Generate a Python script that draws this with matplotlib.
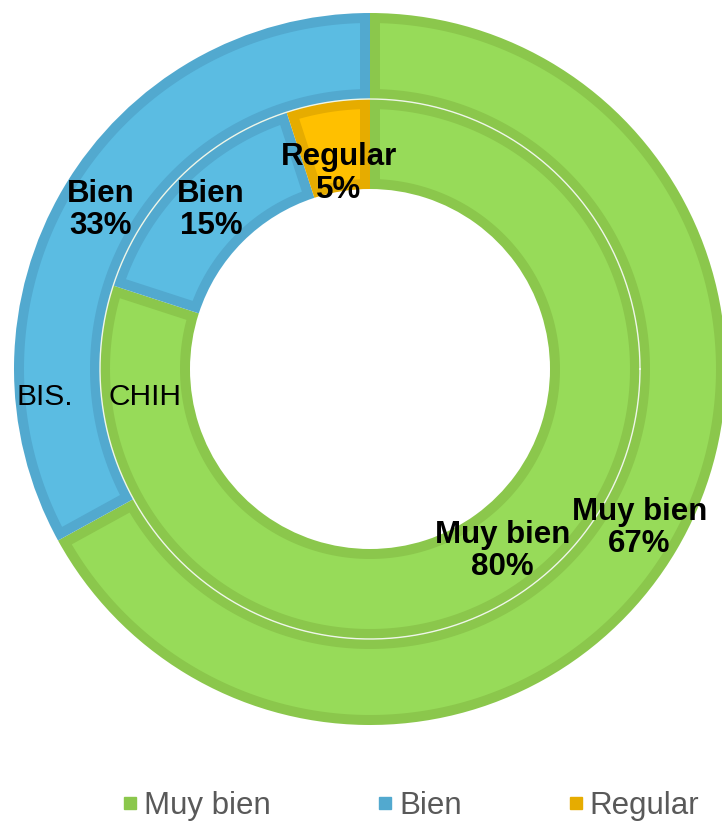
import numpy as np
import matplotlib
matplotlib.use("Agg")
import matplotlib.pyplot as plt
from matplotlib.lines import Line2D
from matplotlib.patches import Polygon

plt.rcParams['font.family'] = ['Liberation Sans', 'DejaVu Sans']

categories = ["Muy bien", "Bien", "Regular"]
outer_name = "BIS."
inner_name = "CHIH"
outer_values = [67, 33, 0]
inner_values = [80, 15, 5]

fills = ["#97DB59", "#5BBCE2", "#FFC000"]
edges = ["#8BC74C", "#52A9CF", "#E6AC00"]

W, H = 722, 825
cx, cy = 370, H - 369
r_out, r_mid, r_in = 356, 270, 180
border = 10  # px, drawn inside each slice


def inset_poly(w, r_o, r_i, d):
    # slice shrunk by d px on every side (radial sides offset in parallel)
    t1, t2 = np.deg2rad(w.theta1), np.deg2rad(w.theta2)
    ro, ri = r_o - d, r_i + d
    ao, ai = np.arcsin(d / ro), np.arcsin(d / ri)
    a = np.linspace(t1 + ao, t2 - ao, 200)
    b = np.linspace(t2 - ai, t1 + ai, 200)
    xs = np.concatenate([cx + ro * np.cos(a), cx + ri * np.cos(b)])
    ys = np.concatenate([cy + ro * np.sin(a), cy + ri * np.sin(b)])
    return np.column_stack([xs, ys])


fig = plt.figure(figsize=(W / 100, H / 100), dpi=100)
ax = fig.add_axes([0, 0, 1, 1])


def ring(values, r_o, r_i):
    wedges, _ = ax.pie(values, radius=r_o, center=(cx, cy), startangle=90,
                       counterclock=False, colors=edges,
                       wedgeprops=dict(width=r_o - r_i, linewidth=0))
    for w, v, fc in zip(wedges, values, fills):
        if v == 0:
            continue
        ax.add_patch(Polygon(inset_poly(w, r_o, r_i, border), closed=True,
                             facecolor=fc, edgecolor="none"))
    return wedges


outer = ring(outer_values, r_out, r_mid)
inner = ring(inner_values, r_mid, r_in)

# faint light line between the two rings
t = np.linspace(0, 2 * np.pi, 400)
ax.plot(cx + r_mid * np.cos(t), cy + r_mid * np.sin(t), color="#EEF6E8", lw=1)


def label_ring(wedges, values, rad, overrides={}):
    for i, (w, v) in enumerate(zip(wedges, values)):
        if v == 0:
            continue
        ang = np.deg2rad((w.theta1 + w.theta2) / 2)
        rr = overrides.get(i, rad)
        ax.text(cx + rr * np.cos(ang), cy + rr * np.sin(ang),
                f"{categories[i]}\n{v}%", ha="center", va="center",
                fontsize=22.5, fontweight="bold", color="black", linespacing=1.1)


label_ring(outer, outer_values, 313)
label_ring(inner, inner_values, 225, {2: 198})

ax.text(45, H - 397, outer_name, ha="center", va="center", fontsize=21.5, color="black")
ax.text(145, H - 397, inner_name, ha="center", va="center", fontsize=21.5, color="black")

handles = [Line2D([], [], marker="s", linestyle="none", markersize=9,
                  markerfacecolor=c, markeredgecolor=c) for c in edges]
fig.legend(handles, categories, loc="center", bbox_to_anchor=(410 / W, 1 - 806 / H),
           ncol=3, frameon=False, fontsize=22.5, labelcolor="#595959",
           handletextpad=0.15, handlelength=0.6, columnspacing=3.35)

ax.set_xlim(0, W)
ax.set_ylim(0, H)
ax.set_aspect("equal")
ax.axis("off")

fig.savefig("out.png", dpi=100)
